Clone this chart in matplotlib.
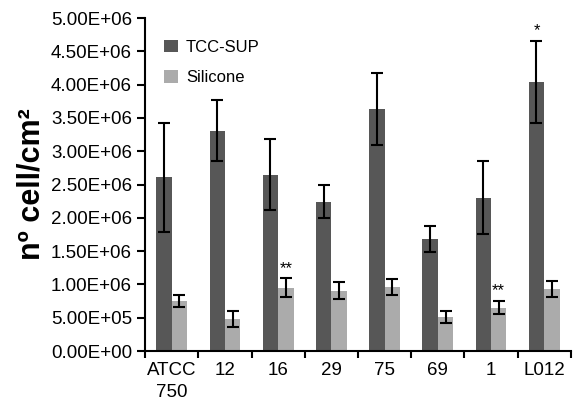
import matplotlib
matplotlib.use("Agg")
import matplotlib.pyplot as plt
import numpy as np

plt.rcParams['font.family'] = ['Liberation Sans', 'DejaVu Sans']

categories = ["ATCC\n750", "12", "16", "29", "75", "69", "1", "L012"]
tcc = [2.61e6, 3.31e6, 2.65e6, 2.24e6, 3.64e6, 1.68e6, 2.30e6, 4.04e6]
tcc_err = [0.82e6, 0.46e6, 0.54e6, 0.25e6, 0.54e6, 0.20e6, 0.55e6, 0.62e6]
sil = [0.75e6, 0.48e6, 0.95e6, 0.905e6, 0.96e6, 0.515e6, 0.65e6, 0.925e6]
sil_err = [0.085e6, 0.12e6, 0.14e6, 0.13e6, 0.12e6, 0.09e6, 0.10e6, 0.12e6]
tcc_marks = ["", "", "", "", "", "", "", "*"]
sil_marks = ["", "", "**", "", "", "", "**", ""]
yticks = np.arange(0, 5.0e6 + 1, 0.5e6)

fig = plt.figure(figsize=(5.76, 4.0), dpi=100)
ax = fig.add_axes([0.252, 0.1225, 0.739, 0.8325])

x = np.arange(len(categories))
w = 0.29
dark = "#575757"
light = "#ababab"
ax.bar(x - w/2, tcc, w, color=dark, label="TCC-SUP",
       yerr=tcc_err, error_kw=dict(ecolor="black", elinewidth=1.5, capsize=4, capthick=1.5))
ax.bar(x + w/2, sil, w, color=light, label="Silicone",
       yerr=sil_err, error_kw=dict(ecolor="black", elinewidth=1.5, capsize=4, capthick=1.5))

for i in range(len(categories)):
    if tcc_marks[i]:
        ax.text(x[i] - w/2, tcc[i] + tcc_err[i] + 0.04e6, tcc_marks[i], ha="center", va="bottom", fontsize=12)
    if sil_marks[i]:
        ax.text(x[i] + w/2, sil[i] + sil_err[i] + 0.04e6, sil_marks[i], ha="center", va="bottom", fontsize=12)

ax.set_xlim(-0.5, len(categories) - 0.5)
ax.set_ylim(0, 5.0e6)
ax.set_yticks(yticks)
ax.set_yticklabels([f"{v:.2E}" for v in yticks], fontsize=13.5)
ax.set_xticks(x)
ax.set_xticklabels(categories, fontsize=13.5, linespacing=1.4)
ax.set_xticks(np.arange(-0.5, len(categories), 1.0), minor=True)
ax.tick_params(axis="x", which="major", length=0, pad=8)
ax.tick_params(axis="x", which="minor", length=5, width=1.5, direction="out")
ax.tick_params(axis="y", length=6, width=1.5, direction="out")
for s in ["top", "right"]:
    ax.spines[s].set_visible(False)
for s in ["left", "bottom"]:
    ax.spines[s].set_linewidth(1.5)

ax.set_ylabel("nº cell/cm²", fontsize=22, fontweight="bold", labelpad=3)
leg = ax.legend(loc="upper left", bbox_to_anchor=(0.01, 0.98), frameon=False, fontsize=12,
                handlelength=0.8, handleheight=0.8, handletextpad=0.5, labelspacing=0.9)

fig.savefig("out.png", dpi=100)
